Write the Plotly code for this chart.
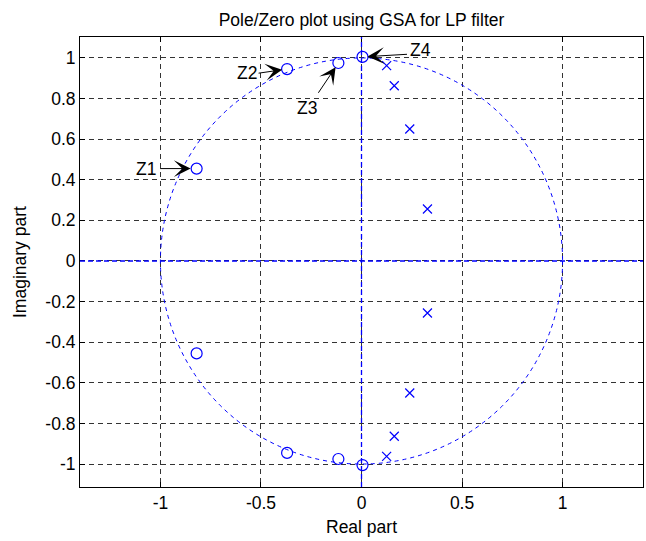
import plotly.graph_objects as go

# Zeros and poles (upper half-plane; the lower half are their conjugates)
zero_re = [-0.82, -0.37, -0.115, 0.005]
zero_im = [0.455, 0.945, 0.975, 1.005]
pole_re = [0.125, 0.163, 0.24, 0.328]
pole_im = [0.962, 0.863, 0.65, 0.256]
zero_names = ["Z1", "Z2", "Z3", "Z4"]

x_ticks = [-1, -0.5, 0, 0.5, 1]
x_tick_text = ["-1", "-0.5", "0", "0.5", "1"]
y_ticks = [-1, -0.8, -0.6, -0.4, -0.2, 0, 0.2, 0.4, 0.6, 0.8, 1]
y_tick_text = ["-1", "-0.8", "-0.6", "-0.4", "-0.2", "0", "0.2", "0.4", "0.6", "0.8", "1"]

BLUE = "#0000FF"
FONT = "Liberation Sans, Arial, sans-serif"
FS = 17.5

zx = zero_re + zero_re
zy = zero_im + [-v for v in zero_im]
px = pole_re + pole_re
py = pole_im + [-v for v in pole_im]

fig = go.Figure()
fig.add_trace(go.Scatter(
    x=zx, y=zy, mode="markers",
    marker=dict(symbol="circle-open", size=11, color=BLUE, line=dict(width=1.2, color=BLUE)),
    showlegend=False, hoverinfo="skip"))
fig.add_trace(go.Scatter(
    x=px, y=py, mode="markers",
    marker=dict(symbol="x-thin-open", size=9, color=BLUE, line=dict(width=1.2, color=BLUE)),
    showlegend=False, hoverinfo="skip"))

# unit circle and the real/imaginary axes
fig.add_shape(type="circle", xref="x", yref="y", x0=-1, y0=-1, x1=1, y1=1,
              line=dict(color=BLUE, width=1, dash="4px,4px"))
fig.add_shape(type="line", xref="paper", yref="y", x0=0, x1=1, y0=0, y1=0,
              line=dict(color=BLUE, width=1.3, dash="5px,3px"))
fig.add_shape(type="line", xref="x", yref="paper", x0=0, x1=0, y0=0, y1=1,
              line=dict(color=BLUE, width=1.3, dash="5px,3px"))

# label text offsets (px) from each zero, and arrow tail offsets
text_dx = [-50.7, -40.6, -31.6, 58.4]
text_dy = [-0.7, -4.3, -44.6, 7.4]
tail_ax = [-38, -30, -21, 46]
tail_ay = [0, 4.3, 31.3, -2.7]
standoffs = [6, 5, 5, 5]

for i, name in enumerate(zero_names):
    fig.add_annotation(x=zero_re[i], y=zero_im[i], xref="x", yref="y", text="",
                       showarrow=True, ax=tail_ax[i], ay=tail_ay[i],
                       arrowhead=3, arrowsize=2.8, arrowwidth=1, arrowcolor="black",
                       standoff=standoffs[i])
    fig.add_annotation(x=zero_re[i], y=zero_im[i], xref="x", yref="y", text=name,
                       showarrow=False, xshift=text_dx[i], yshift=text_dy[i],
                       font=dict(family=FONT, size=FS, color="black"))

# axis titles
fig.add_annotation(x=0.5, y=0, xref="paper", yref="paper", text="Real part",
                   showarrow=False, yshift=-40, yanchor="middle",
                   font=dict(family=FONT, size=FS, color="black"))
fig.add_annotation(x=0, y=0.5, xref="paper", yref="paper", text="Imaginary part",
                   showarrow=False, xshift=-60, xanchor="center", textangle=-90,
                   font=dict(family=FONT, size=FS, color="black"))

axis_common = dict(
    showline=True, linecolor="black", linewidth=1, mirror="ticks",
    ticks="inside", ticklen=5, tickcolor="black",
    showgrid=True, gridcolor="#333333", gridwidth=1, griddash="5px,4px",
    zeroline=False, tickfont=dict(family=FONT, size=FS, color="black"),
)

fig.update_xaxes(range=[-1.4, 1.4], tickvals=x_ticks, ticktext=x_tick_text, **axis_common)
fig.update_yaxes(range=[-1.113, 1.103], tickvals=y_ticks, ticktext=y_tick_text, **axis_common)

fig.update_layout(
    width=646, height=541,
    margin=dict(l=80, r=3, t=37, b=54, autoexpand=False),
    paper_bgcolor="white", plot_bgcolor="white",
    title=dict(text="Pole/Zero plot using GSA for LP filter", x=361.5 / 646, xanchor="center",
               y=1 - 20 / 541, yanchor="middle", xref="container", yref="container",
               font=dict(family=FONT, size=FS, color="black")),
    font=dict(family=FONT, size=FS, color="black"),
)

fig.write_html("out.html")
